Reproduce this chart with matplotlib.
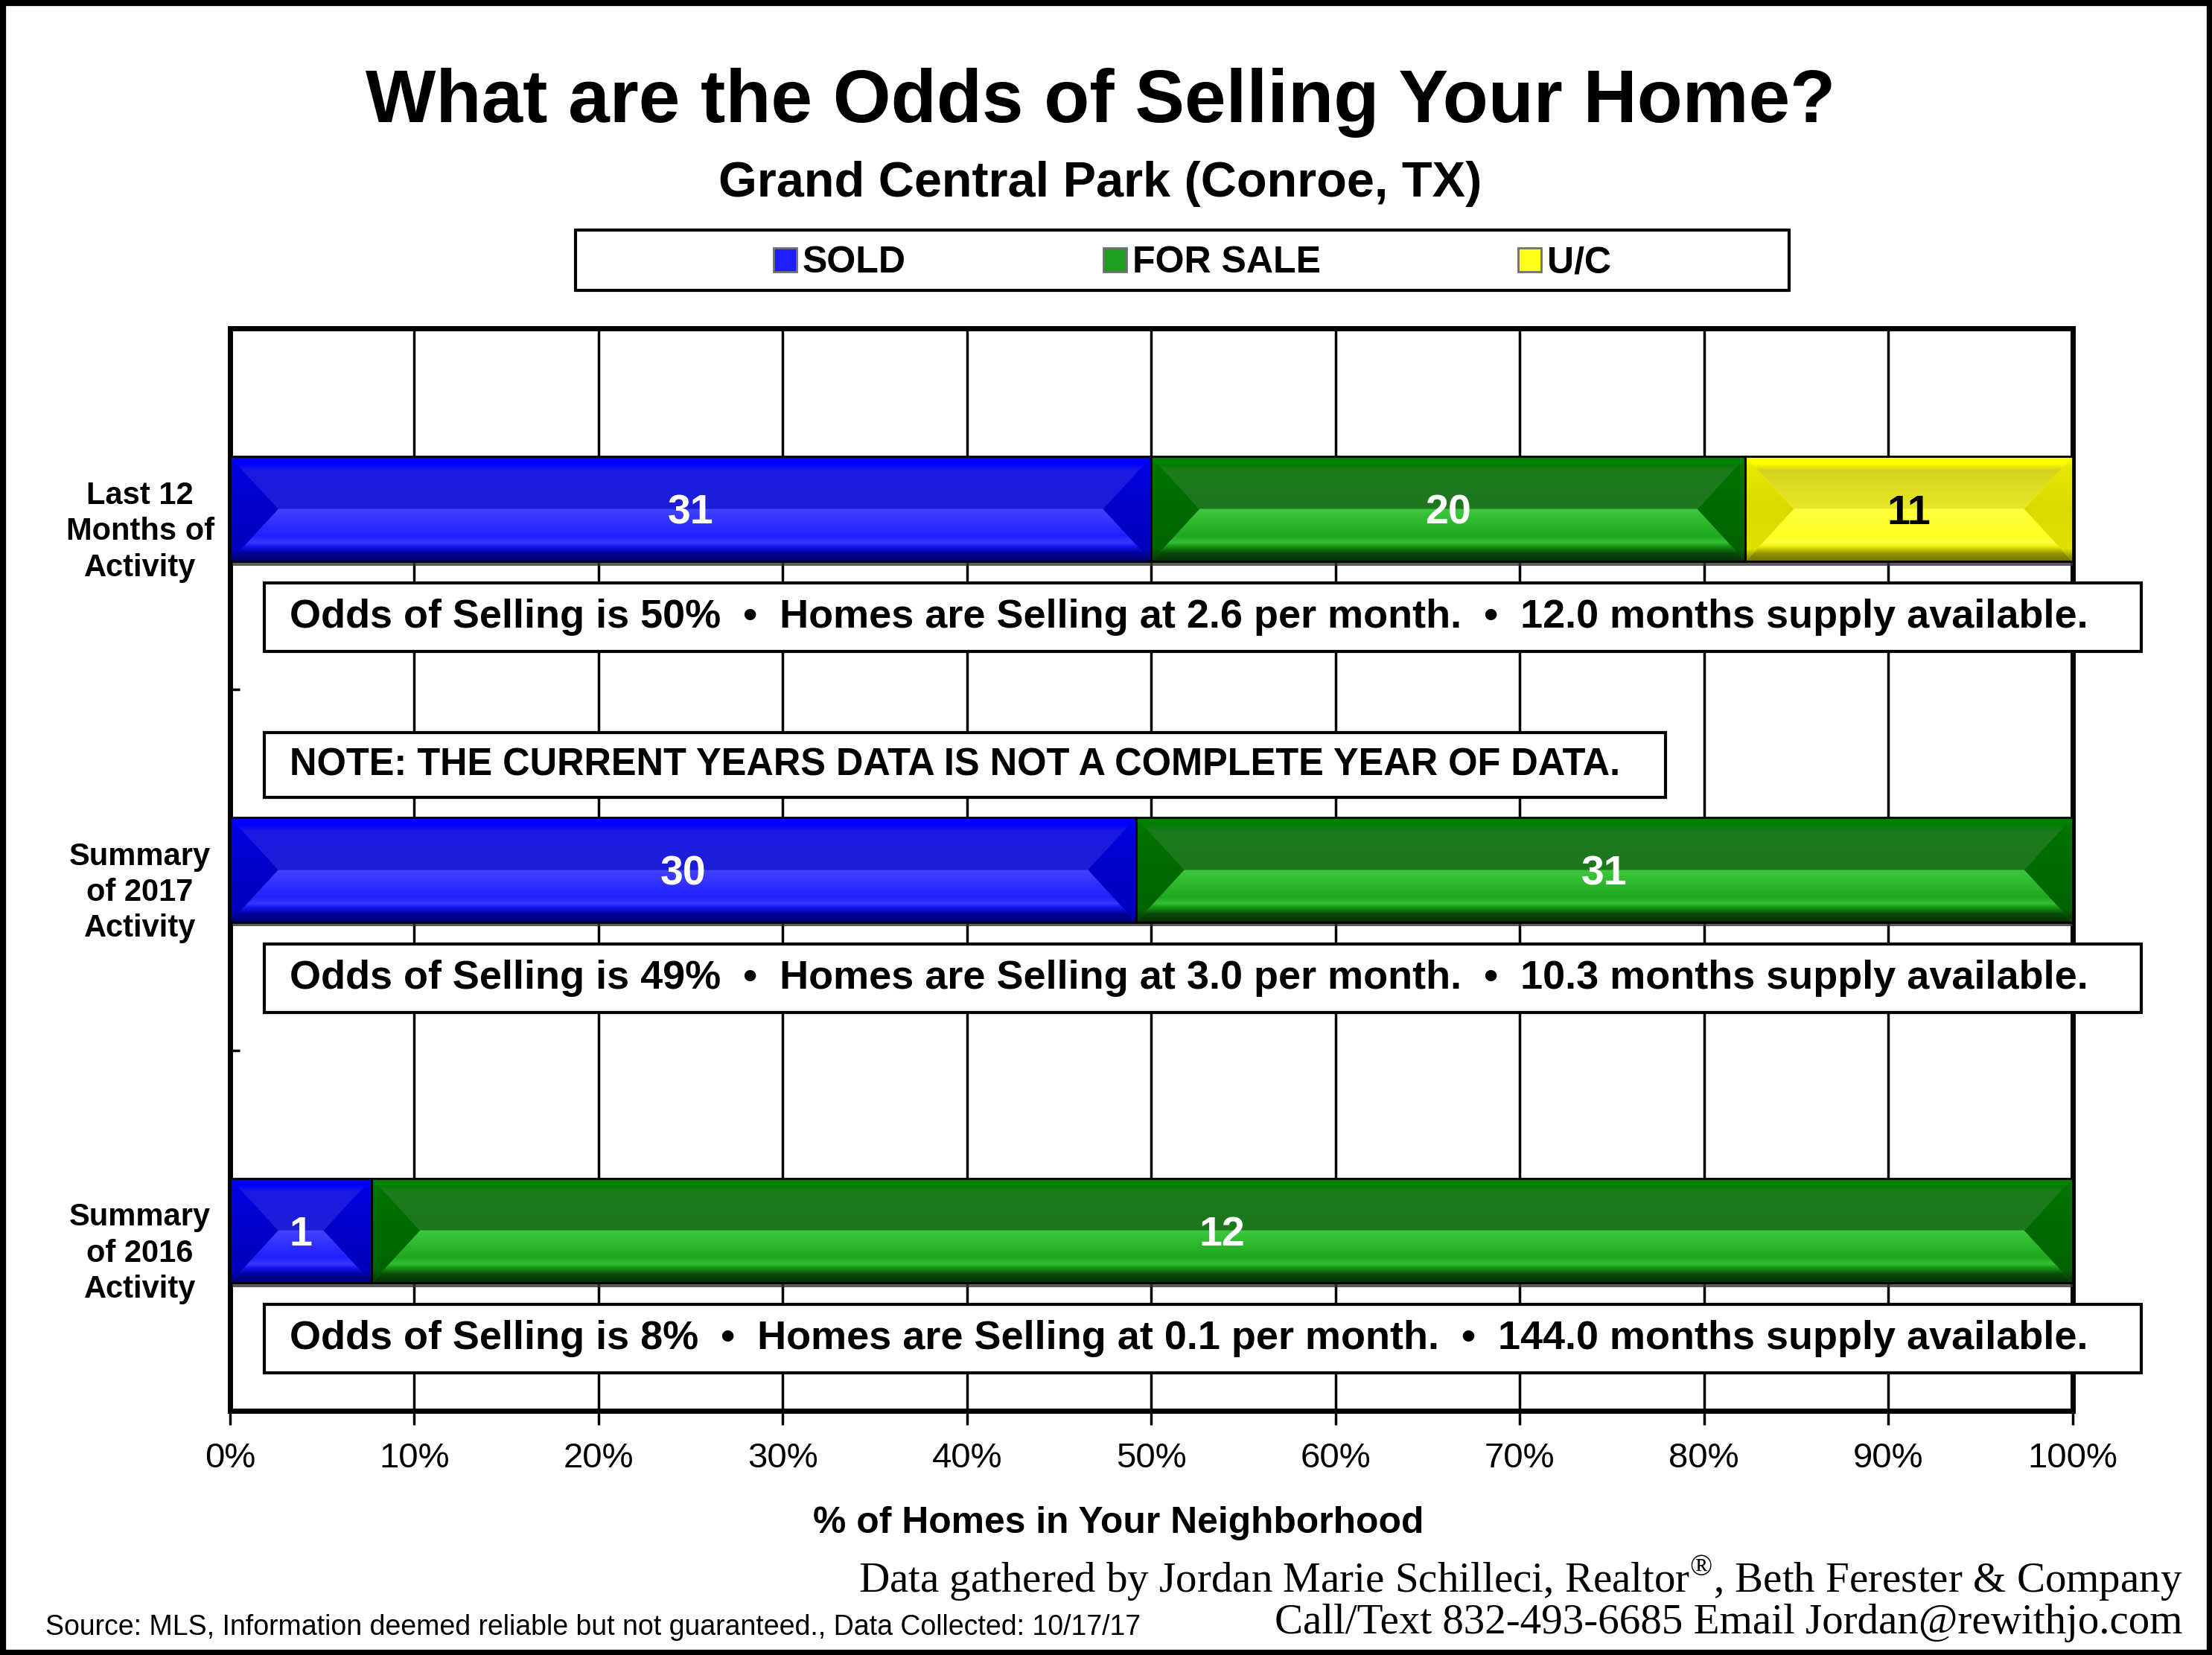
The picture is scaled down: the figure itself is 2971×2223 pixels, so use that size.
import numpy as np
import matplotlib
matplotlib.use("Agg")
import matplotlib.pyplot as plt
from matplotlib.patches import Polygon, Rectangle, Patch
from matplotlib.colors import to_rgb
from matplotlib.transforms import ScaledTranslation
import matplotlib.patheffects as pe

# ---------------- data ----------------
categories = ["Last 12\nMonths of\nActivity", "Summary\nof 2017\nActivity", "Summary\nof 2016\nActivity"]
series_names = ["SOLD", "FOR SALE", "U/C"]
sold = [31, 30, 1]
for_sale = [20, 31, 12]
under_contract = [11, 0, 0]
odds_text = [
    "Odds of Selling is 50%  \u2022  Homes are Selling at 2.6 per month.  \u2022  12.0 months supply available.",
    "Odds of Selling is 49%  \u2022  Homes are Selling at 3.0 per month.  \u2022  10.3 months supply available.",
    "Odds of Selling is 8%  \u2022  Homes are Selling at 0.1 per month.  \u2022  144.0 months supply available.",
]
note_text = "NOTE: THE CURRENT YEARS DATA IS NOT A COMPLETE YEAR OF DATA."
xticks = [0, 10, 20, 30, 40, 50, 60, 70, 80, 90, 100]
xtick_labels = ["0%", "10%", "20%", "30%", "40%", "50%", "60%", "70%", "80%", "90%", "100%"]
title = "What are the Odds of Selling Your Home?"
subtitle = "Grand Central Park (Conroe, TX)"
xlabel = "% of Homes in Your Neighborhood"
footer1 = "Data gathered by Jordan Marie Schilleci, Realtor$^{\\mathregular{\u00ae}}$, Beth Ferester & Company"
footer2 = "Call/Text 832-493-6685 Email Jordan@rewithjo.com"
source = "Source: MLS, Information deemed reliable but not guaranteed., Data Collected: 10/17/17"

# ---------------- styles ----------------
plt.rcParams["font.family"] = ["Liberation Sans", "DejaVu Sans"]

base_colors = ["#1E1EFF", "#1E9E1E", "#FFFF1E"]
label_colors = ["white", "white", "black"]
center_stops = [
    [(0, "#0000FF"), (0.07, "#0000FF"), (0.13, "#1A1AE4"), (0.5, "#1E1ED6"), (0.502, "#4242FF"),
     (0.76, "#2020FF"), (0.82, "#3838FF"), (0.86, "#1515F0"), (0.92, "#00009A"), (1.0, "#000070")],
    [(0, "#008000"), (0.07, "#008000"), (0.13, "#1C7A1C"), (0.5, "#1E781E"), (0.502, "#3EC83E"),
     (0.76, "#1EA81E"), (0.82, "#36BE36"), (0.86, "#149614"), (0.92, "#0A4A0A"), (1.0, "#063006")],
    [(0, "#FFFF00"), (0.07, "#FFFF00"), (0.13, "#D4D41E"), (0.5, "#E8E828"), (0.502, "#FFFF40"),
     (0.76, "#FFFF22"), (0.82, "#FFFF44"), (0.86, "#EEEE10"), (0.92, "#9A9A00"), (1.0, "#707000")],
]
side_stops = [
    [(0, "#0000FF"), (0.1, "#0000E0"), (0.5, "#0000C8"), (0.88, "#0000C0"), (1.0, "#000070")],
    [(0, "#008000"), (0.1, "#007400"), (0.5, "#006A00"), (0.88, "#006400"), (1.0, "#063006")],
    [(0, "#FFFF00"), (0.1, "#E8E800"), (0.5, "#DADA00"), (0.88, "#E0E000"), (1.0, "#707000")],
]


def grad(stops, n=300):
    fr = np.linspace(0, 1, n)
    xs = [s[0] for s in stops]
    cols = np.array([to_rgb(s[1]) for s in stops])
    out = np.stack([np.interp(fr, xs, cols[:, k]) for k in range(3)], axis=1)
    return out[:, None, :]


W, H = 2971, 2223
fig = plt.figure(figsize=(W / 100, H / 100), dpi=100)
ax_rect = [0.1040, 0.1475, 0.8329, 0.6539]
ax = fig.add_axes(ax_rect)

y = np.arange(len(categories))
bar_h = 0.29
series = [sold, for_sale, under_contract]
totals = np.array(sold) + np.array(for_sale) + np.array(under_contract)
pcts = [np.array(s) / totals * 100 for s in series]

px_x = ax_rect[2] * W / 100.0
px_y = ax_rect[3] * H / 3.0
inset = 0.46 * bar_h * px_y / px_x

left = np.zeros(len(categories))
segments = []
for i, (name, p) in enumerate(zip(series_names, pcts)):
    bars = ax.barh(y, p, left=left, height=bar_h, color=base_colors[i], edgecolor="none", zorder=3,
                   label=name)
    for b in bars:
        b.set_path_effects([pe.SimplePatchShadow(offset=(2, -4), shadow_rgbFace="#333333", alpha=0.8),
                            pe.Normal()])
    for j in range(len(categories)):
        if p[j] > 0:
            segments.append((left[j], left[j] + p[j], y[j], i, series[i][j]))
    left = left + p

for x0, x1, yc, i, val in segments:
    yt, yb = yc - bar_h / 2, yc + bar_h / 2
    d = min(inset, (x1 - x0) / 2)
    center = [(x0, yt), (x1, yt), (x1 - d, yc), (x1, yb), (x0, yb), (x0 + d, yc)]
    lt = [(x0, yt), (x0 + d, yc), (x0, yb)]
    rt = [(x1, yt), (x1 - d, yc), (x1, yb)]
    for pts, stops in [(center, center_stops[i]), (lt, side_stops[i]), (rt, side_stops[i])]:
        im = ax.imshow(grad(stops), extent=(x0, x1, yb, yt), origin="upper", aspect="auto",
                       interpolation="bilinear", zorder=3.2)
        poly = Polygon(pts, closed=True, transform=ax.transData)
        im.set_clip_path(poly)
    ax.text((x0 + x1) / 2, yc, str(val), ha="center", va="center_baseline", fontsize=40,
            fontweight="bold", color=label_colors[i], zorder=5)

left = np.zeros(len(categories))
for p in pcts:
    ax.barh(y, p, left=left, height=bar_h, facecolor="none", edgecolor="black", linewidth=2, zorder=4)
    left = left + p

# text boxes
box_x0, box_x1 = 1.84, 103.75
for j, txt in enumerate(odds_text):
    yc = y[j] + 0.30
    ax.add_patch(Rectangle((box_x0, yc - 0.095), box_x1 - box_x0, 0.19, facecolor="white",
                           edgecolor="black", linewidth=3, zorder=4.5, clip_on=False))
    ax.text(3.22, yc, txt, ha="left", va="center", fontsize=38.9, fontweight="bold", zorder=5,
            clip_on=False)
yc = y[1] - 0.29
ax.add_patch(Rectangle((box_x0, yc - 0.09), 77.9 - box_x0, 0.18, facecolor="white",
                       edgecolor="black", linewidth=3, zorder=4.5, clip_on=False))
ax.text(3.22, yc, note_text, ha="left", va="center", fontsize=36.4, fontweight="bold", zorder=5)

# axes styling
ax.set_xlim(0, 100)
ax.set_ylim(2.5, -0.5)
ax.set_xticks(xticks)
ax.set_xticklabels(xtick_labels, fontsize=34)
ax.set_yticks(y)
ax.set_yticklabels(categories, fontsize=30, fontweight="bold", ha="center", linespacing=1.27)
ax.set_yticks([0.5, 1.5], minor=True)
ax.tick_params(axis="y", which="major", length=0, pad=87)
ax.tick_params(axis="y", which="minor", length=9, width=2.5, direction="in")
ax.tick_params(axis="x", which="major", length=14, width=2.5, pad=16)
ax.grid(axis="x", color="black", linewidth=2.5, zorder=0.5)
ax.set_axisbelow(True)
for s in ax.spines.values():
    s.set_linewidth(5)
shift = ScaledTranslation(0, -0.22, fig.dpi_scale_trans)
for lab in ax.get_yticklabels():
    lab.set_transform(lab.get_transform() + shift)

ax.set_xlabel(xlabel, fontsize=35.8, fontweight="bold")
ax.xaxis.set_label_coords(0.482, -0.104)
ax.xaxis.label.set_va("center")

# titles
fig.text(0.4975, 0.938, title, ha="center", va="center", fontsize=72, fontweight="bold")
fig.text(0.4975, 0.889, subtitle, ha="center", va="center", fontsize=48, fontweight="bold")

# legend
handles = [Patch(facecolor=base_colors[i], edgecolor="#707070", linewidth=2) for i in range(3)]
fig.legend(handles, series_names, loc="center", bbox_to_anchor=(0.539, 0.841), ncol=3, frameon=False,
           prop={"size": 36, "weight": "bold"}, handlelength=0.62, handleheight=0.62,
           handletextpad=0.16, columnspacing=5.3, borderaxespad=0)
fig.add_artist(Rectangle((0.2602, 0.8244), 0.5485, 0.0367, transform=fig.transFigure, fill=False,
                         linewidth=3, edgecolor="black"))

# footer
plt.rcParams["mathtext.fontset"] = "custom"
plt.rcParams["mathtext.rm"] = "Liberation Serif"
fig.text(0.9866, 0.046, footer1, ha="right", va="center", family=["Liberation Serif", "DejaVu Serif"],
         fontsize=41)
fig.text(0.9866, 0.0195, footer2, ha="right", va="center", family=["Liberation Serif", "DejaVu Serif"],
         fontsize=41)
fig.text(0.0204, 0.0165, source, ha="left", va="center", fontsize=27)

# outer frame
fig.add_artist(Rectangle((0, 0), 1, 1, transform=fig.transFigure, fill=False, linewidth=11,
                         edgecolor="black"))

fig.savefig("out.png", dpi=100)
